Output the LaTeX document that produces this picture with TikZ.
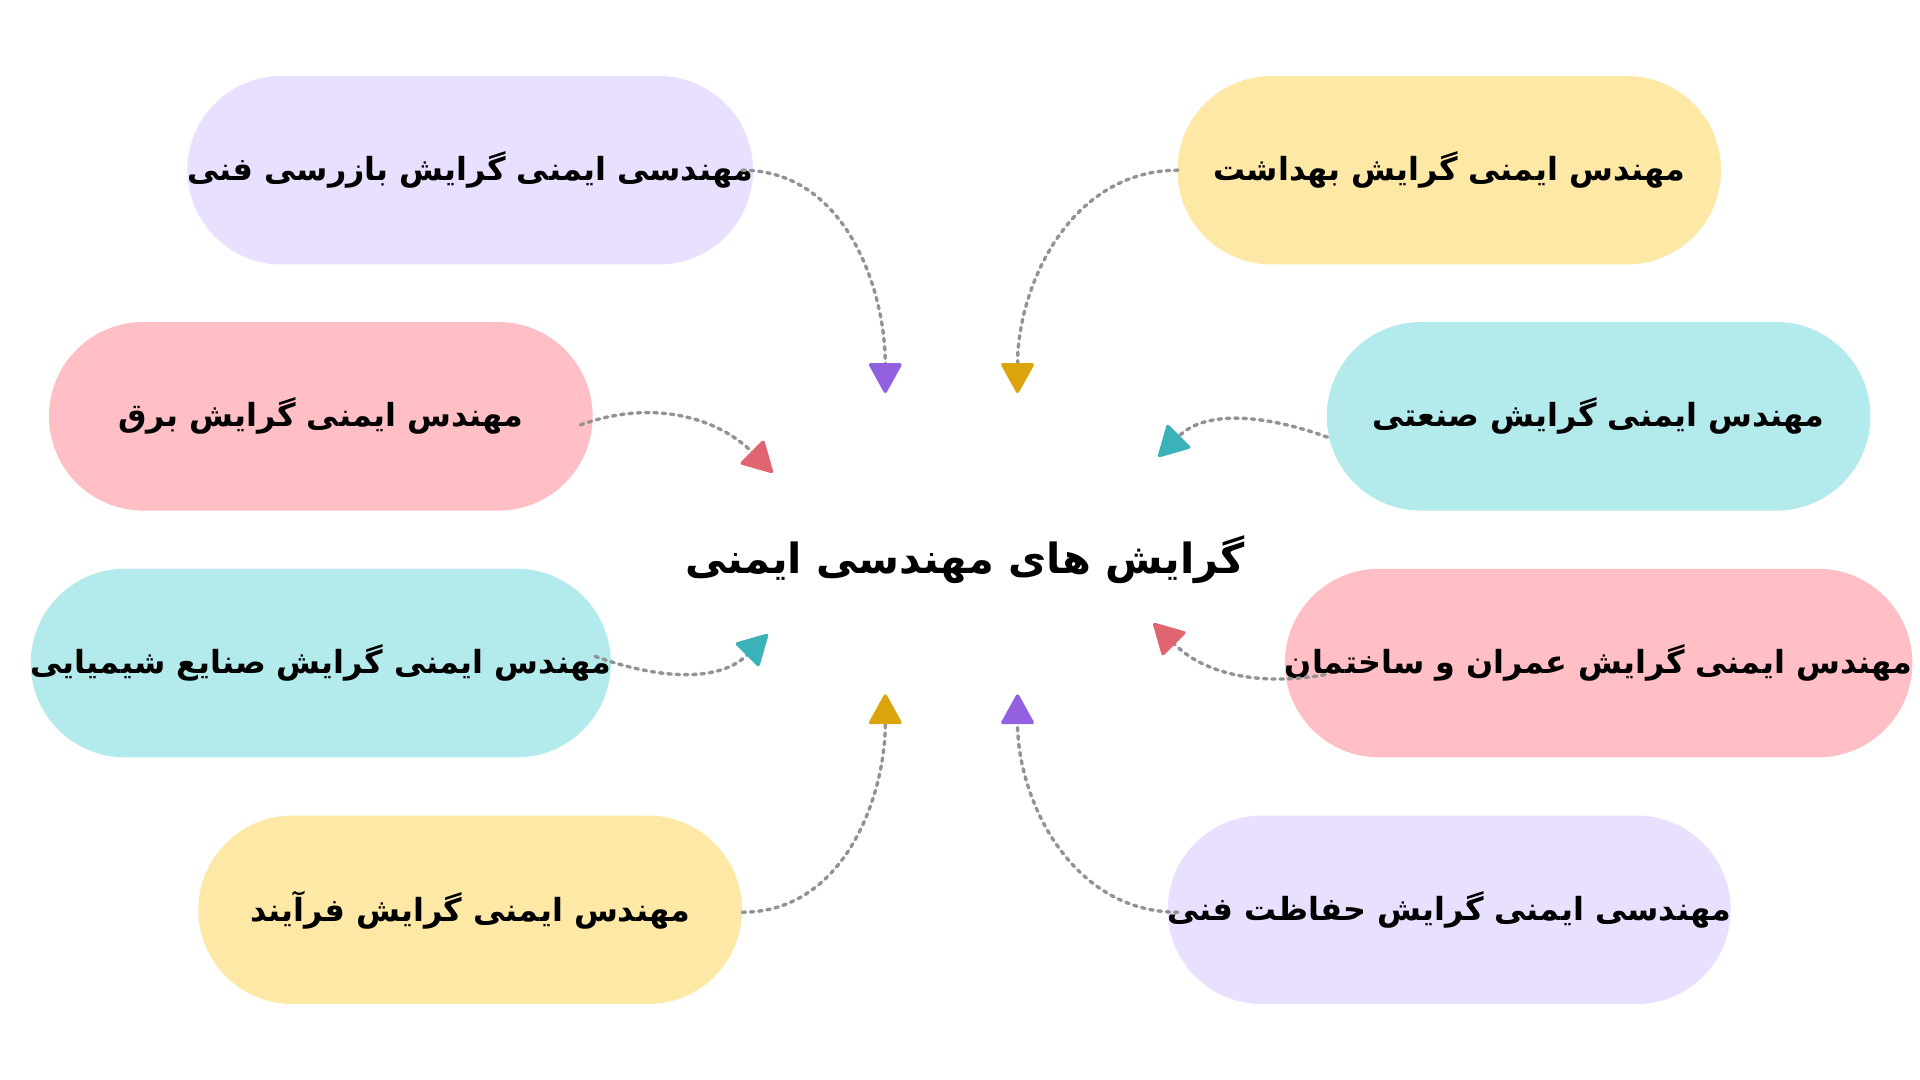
\documentclass[tikz,border=0pt]{standalone}
\usepackage{fontspec}
\usetikzlibrary{arrows.meta}
\newfontfamily\arabicfont[Script=Arabic]{DejaVu Sans}
\TeXXeTstate=1
\definecolor{lav}{HTML}{E9E0FF}
\definecolor{yel}{HTML}{FDE8A6}
\definecolor{pnk}{HTML}{FFBFC4}
\definecolor{cya}{HTML}{B3EAEC}
\definecolor{apur}{HTML}{9361E0}
\definecolor{agol}{HTML}{DBA40A}
\definecolor{ared}{HTML}{E06570}
\definecolor{atea}{HTML}{3AB2B8}
\tikzset{
 pill/.style={minimum width=222pt,minimum height=77pt,rounded corners=38.5pt,inner sep=0pt,font=\arabicfont\bfseries\fontsize{13}{15}\selectfont},
 link/.style={draw=gray!85,line width=1.4pt,dotted,line cap=round},
 tipc/.style={-{Triangle[length=13pt,width=14pt,round,color=#1,fill=#1]}}
}
\newcommand{\rl}[1]{\beginR #1\endR}
\begin{document}
\begin{tikzpicture}[x=0.5pt,y=-0.5pt]
\useasboundingbox (0,0) rectangle (1568,882);
\node[pill,fill=lav] (p1) at (384,139) {\rl{مهندسی ایمنی گرایش بازرسی فنی}};
\node[pill,fill=yel] (p2) at (1183.5,139) {\rl{مهندس ایمنی گرایش بهداشت}};
\node[pill,fill=pnk] (p3) at (262,340) {\rl{مهندس ایمنی گرایش برق}};
\node[pill,fill=cya] (p4) at (1305.5,340) {\rl{مهندس ایمنی گرایش صنعتی}};
\node[pill,fill=cya] (p5) at (262,541.5) {\rl{مهندس ایمنی گرایش صنایع شیمیایی}};
\node[pill,fill=pnk] (p6) at (1305.5,541.5) {\rl{مهندس ایمنی گرایش عمران و ساختمان}};
\node[pill,fill=yel] (p7) at (384,743) {\rl{مهندس ایمنی گرایش فرآیند}};
\node[pill,fill=lav] (p8) at (1183.5,743) {\rl{مهندسی ایمنی گرایش حفاظت فنی}};
\node[font=\arabicfont\bfseries\fontsize{17}{20}\selectfont] (c) at (788,457) {\rl{گرایش های مهندسی ایمنی}};
\coordinate (s1) at (606,139); \coordinate (t1) at (723,321);
\coordinate (s2) at (962,139); \coordinate (t2) at (831,321);
\coordinate (s3) at (474,347); \coordinate (t3) at (631,386);
\coordinate (s4) at (1084,357); \coordinate (t4) at (946,373);
\coordinate (s5) at (486,536); \coordinate (t5) at (627,518);
\coordinate (s6) at (1082,551); \coordinate (t6) at (942,509);
\coordinate (s7) at (606,745); \coordinate (t7) at (723,567);
\coordinate (s8) at (962,745); \coordinate (t8) at (831,567);
\draw[link,tipc=apur] (s1) to[out=0,in=90] (t1);
\draw[link,tipc=agol] (s2) to[out=180,in=90] (t2);
\draw[link,tipc=ared] (s3) to[out=20,in=135] (t3);
\draw[link,tipc=atea] (s4) to[out=160,in=45] (t4);
\draw[link,tipc=atea] (s5) to[out=-20,in=-135] (t5);
\draw[link,tipc=ared] (s6) to[out=190,in=-45] (t6);
\draw[link,tipc=agol] (s7) to[out=0,in=-90] (t7);
\draw[link,tipc=apur] (s8) to[out=180,in=-90] (t8);
\end{tikzpicture}
\end{document}
